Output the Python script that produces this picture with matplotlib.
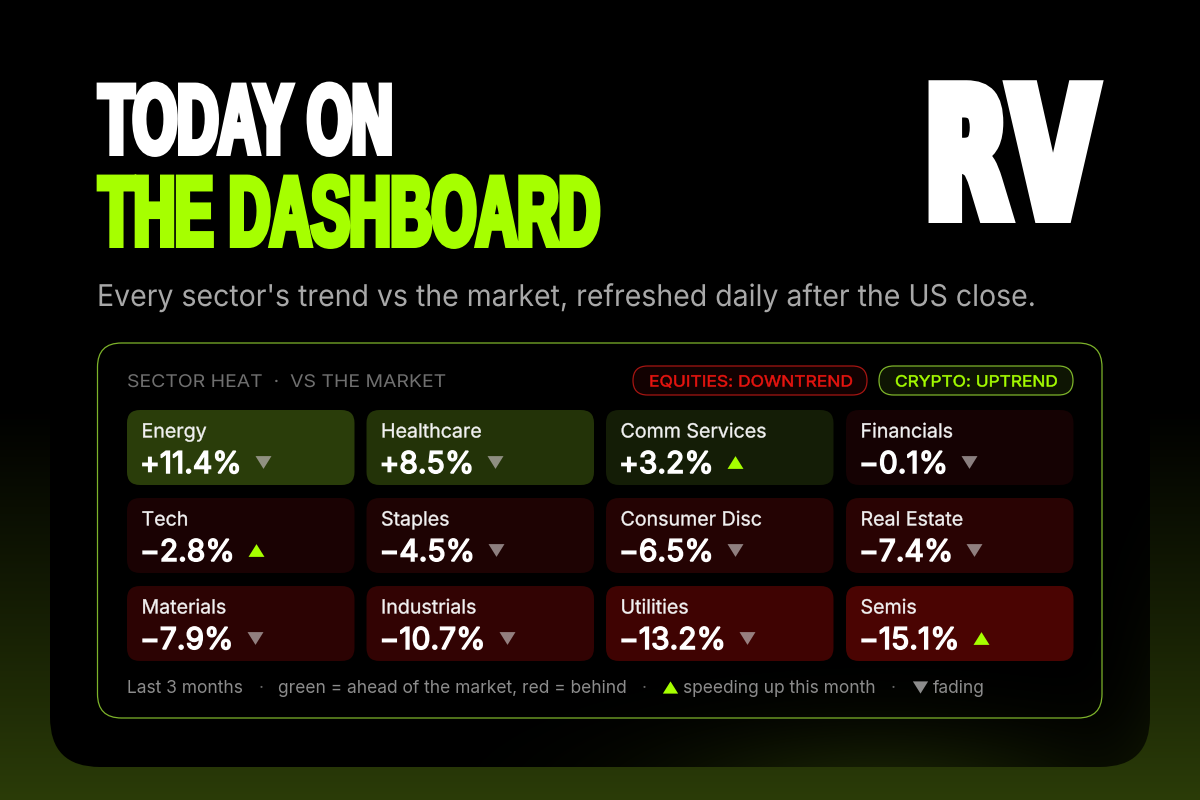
"""Today on the dashboard: sector heat card, 1200x800."""

import matplotlib
matplotlib.use("Agg")
import matplotlib.patheffects as pe
import matplotlib.pyplot as plt
import numpy as np
from matplotlib.patches import FancyBboxPatch
from matplotlib.path import Path
from matplotlib.text import Text
from matplotlib.transforms import Affine2D, Bbox

SECTORS = ["Energy", "Healthcare", "Comm Services", "Financials",
           "Tech", "Staples", "Consumer Disc", "Real Estate",
           "Materials", "Industrials", "Utilities", "Semis"]
RETURNS = [11.4, 8.5, 3.2, -0.1, -2.8, -4.5, -6.5, -7.4, -7.9, -10.7, -13.2, -15.1]
SPEEDING = [False, False, True, False, True, False, False, False, False, False, False, True]

TILE_COLORS = ["#2a3d0a", "#233308", "#141d06", "#150203",
               "#1a0203", "#1e0303", "#240303", "#290303",
               "#2c0303", "#320303", "#3f0302", "#4a0402"]

LIME = "#a6ff00"
FRAME = "#7db32a"
GREY = "#8c8c8c"
FONT = "Inter"
HEAVY = "Liberation Sans"
LOGO = "DejaVu Sans"

COL_X = [127, 366.5, 606, 846]
ROW_Y = [410, 498, 586]
TILE_W, TILE_H = 227.5, 75

UP = Path([(-1, -0.8), (1, -0.8), (0, 0.8), (-1, -0.8)], closed=True)
DOWN = Path([(-1, 0.8), (1, 0.8), (0, -0.8), (-1, 0.8)], closed=True)


class Squeeze(pe.AbstractPathEffect):
    """Rescale a text around its anchor and fatten it, as the fonts we lack would."""

    def __init__(self, sx, sy, x0, y0, stroke=0.0):
        super().__init__()
        self.sx, self.sy, self.x0, self.y0, self.stroke = sx, sy, x0, y0, stroke

    def draw_path(self, renderer, gc, tpath, affine, rgbFace):
        scaled = affine + (Affine2D().translate(-self.x0, -self.y0)
                           .scale(self.sx, self.sy).translate(self.x0, self.y0))
        gc0 = renderer.new_gc()
        gc0.copy_properties(gc)
        if self.stroke:
            gc0.set_linewidth(self.stroke * 0.72)  # points at dpi 100
            gc0.set_foreground(rgbFace[:3])
            gc0.set_joinstyle("miter")
        renderer.draw_path(gc0, tpath, scaled, rgbFace)
        gc0.restore()


class FitText(Text):
    """Text whose extent reports the scaled size it is drawn at."""

    sx = 1.0
    sy = 1.0

    def get_window_extent(self, renderer=None, dpi=None):
        box = super().get_window_extent(renderer, dpi)
        if self.sx == 1.0 and self.sy == 1.0:
            return box
        return Bbox.from_extents(box.x0, box.y0, box.x0 + box.width * self.sx,
                                 box.y0 + box.height * self.sy)


def px(size):
    return size * 0.72


def rbox(ax, x, y, w, h, r, **kw):
    box = FancyBboxPatch((x + r, y + r), w - 2 * r, h - 2 * r,
                         boxstyle=f"round,pad={r},rounding_size={r}", **kw)
    ax.add_patch(box)
    return box


def label(ax, x, y, s, size, color="white", family=FONT, weight="normal", width=None,
          stroke=0.0, sy=1.0):
    t = FitText(x, y, s, color=color, fontsize=px(size), family=family, weight=weight,
                va="baseline", ha="left", zorder=5)
    ax.add_artist(t)
    if width is not None or stroke:
        natural = t.get_window_extent(ax.figure.canvas.get_renderer()).width
        sx = width / natural if width else 1.0
        t.set_path_effects([Squeeze(sx, sy, x, 800 - y, stroke)])
        t.sx, t.sy = sx, sy
    return t


def main():
    fig = plt.figure(figsize=(12, 8), dpi=100, facecolor="black")
    ax = fig.add_axes([0, 0, 1, 1])
    ax.axis("off")

    # background wash, then the black panel with its lower-right glow
    yy, xx = np.mgrid[0:800, 0:1200]
    green = np.array([43, 60, 8]) / 255
    t = np.clip((yy - 400) / 400, 0, 1) ** 1.1
    ax.imshow(t[..., None] * green, extent=(0, 1200, 800, 0), aspect="auto", zorder=0)
    glow = np.exp(-((xx - 880) / 220) ** 2 - ((yy - 800) / 70) ** 2) * 0.6
    glow += np.exp(-((xx - 1190) / 60) ** 2 - ((yy - 800) / 190) ** 2) * 0.35
    im = ax.imshow(np.clip(glow, 0, 1)[..., None] * green, extent=(0, 1200, 800, 0),
                   aspect="auto", zorder=1)
    panel = rbox(ax, 50, -60, 1100, 827, 50, fc="none", ec="none", zorder=1)
    im.set_clip_path(panel)
    ax.set_xlim(0, 1200)
    ax.set_ylim(800, 0)

    # headline
    label(ax, 99, 153, "TODAY ON", 78, "white", HEAVY, "bold", 294, 6, sy=98 / 78)
    label(ax, 99, 245, "THE DASHBOARD", 78, LIME, HEAVY, "bold", 501, 6, sy=98 / 78)
    label(ax, 925, 216.5, "R", 100, "white", LOGO, "bold", 84, 13, sy=1.78)
    label(ax, 1010, 216.5, "V", 100, "white", LOGO, "bold", 86, 13, sy=1.78)

    label(ax, 97, 306, "Every sector's trend vs the market, refreshed daily after the US close.",
          30, "#a8a8a8", width=940)

    # card
    rbox(ax, 97.5, 343, 1004.5, 375, 24, fc="none", ec=FRAME, lw=0.9, zorder=3)
    label(ax, 127, 387, "SECTOR HEAT  ·  VS THE MARKET", 17.5, "#6f6f6f", width=318)

    rbox(ax, 633, 366, 234, 29, 14.5, fc="#120101", ec="#a51512", lw=0.9, zorder=3)
    label(ax, 649, 386.5, "EQUITIES: DOWNTREND", 15.5, "#e8140f", width=203, stroke=0.5)
    rbox(ax, 879, 366, 194, 29, 14.5, fc="#0e1503", ec=FRAME, lw=0.9, zorder=3)
    label(ax, 895, 386.5, "CRYPTO: UPTREND", 15.5, LIME, width=162, stroke=0.5)

    renderer = fig.canvas.get_renderer()
    for i, name in enumerate(SECTORS):
        x, y = COL_X[i % 4], ROW_Y[i // 4]
        rbox(ax, x, y, TILE_W, TILE_H, 13, fc=TILE_COLORS[i], ec="none", zorder=3)
        label(ax, x + 14.5, y + 27.5, name, 19.6, "#f2f2f2", stroke=0.35)
        value = f"{RETURNS[i]:+.1f}%".replace("-", "\u2212")
        val = label(ax, x + 13, y + 63, value, 30, stroke=1.5)
        right = ax.transData.inverted().transform(val.get_window_extent(renderer))[1, 0]
        if SPEEDING[i]:
            ax.plot(right + 21, y + 52, marker=UP, ms=11.5, color=LIME, mew=0, zorder=5)
        else:
            ax.plot(right + 21, y + 52, marker=DOWN, ms=11.5, color="#bdb5b5", alpha=0.7,
                    mew=0, zorder=5)

    # footer key
    label(ax, 127, 693, "Last 3 months", 17.4, GREY)
    label(ax, 259, 693, "·", 17.4, "#666666")
    label(ax, 278, 693, "green = ahead of the market, red = behind", 17.4, GREY)
    label(ax, 642, 693, "·", 17.4, "#666666")
    ax.plot(670, 687, marker=UP, ms=11, color=LIME, mew=0, zorder=5)
    label(ax, 683, 693, "speeding up this month", 17.4, GREY)
    label(ax, 891, 693, "·", 17.4, "#666666")
    ax.plot(920, 687, marker=DOWN, ms=11, color=GREY, mew=0, zorder=5)
    label(ax, 933, 693, "fading", 17.4, GREY)

    fig.savefig("out.png", dpi=100, facecolor="black")
    plt.close(fig)


if __name__ == "__main__":
    main()
